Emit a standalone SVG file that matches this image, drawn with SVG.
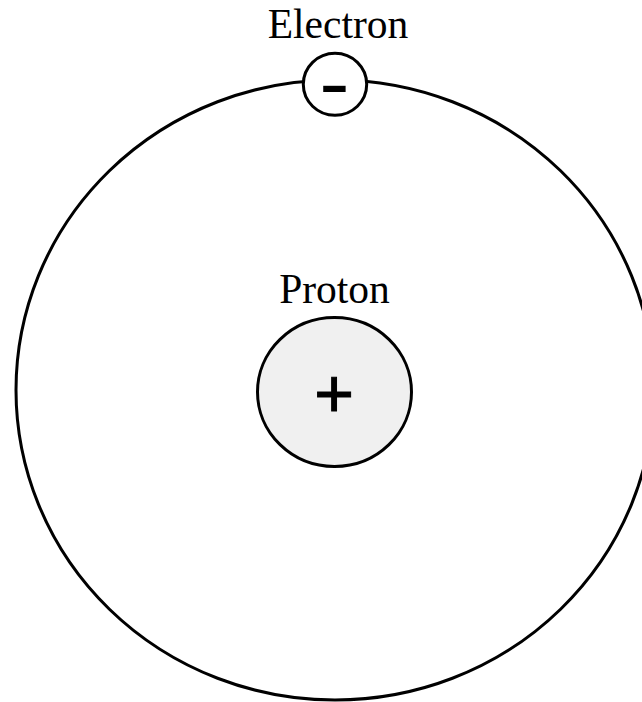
<svg xmlns="http://www.w3.org/2000/svg" width="642" height="702" viewBox="0 0 642 702">
<style>
.ln{fill:none;stroke:#000;stroke-width:3}
.lbl{font-family:"Liberation Serif","Times New Roman",serif;font-size:41.5px;fill:#000;text-anchor:middle}
.sym{font-family:"Liberation Sans",Arial,sans-serif;fill:#000;text-anchor:middle}
</style>
<rect width="642" height="702" fill="#fff"/>
<g id="connectors">
<ellipse id="orbit" class="ln" cx="335" cy="390" rx="319" ry="310"/>
</g>
<g id="electron">
<ellipse cx="335" cy="84.3" rx="31.7" ry="31" fill="#fff" stroke="#000" stroke-width="3"/>
<text class="sym" transform="translate(334.5,102) scale(1.7,1)" x="0" y="0" font-size="52" font-weight="bold">-</text>
<text class="lbl" x="338" y="38">Electron</text>
</g>
<g id="proton">
<ellipse cx="334.5" cy="392" rx="77" ry="74.5" fill="#f0f0f0" stroke="#000" stroke-width="3"/>
<text class="sym" x="334" y="417" font-size="68" stroke="#000" stroke-width="1">+</text>
<text class="lbl" x="334.5" y="303">Proton</text>
</g>
</svg>
